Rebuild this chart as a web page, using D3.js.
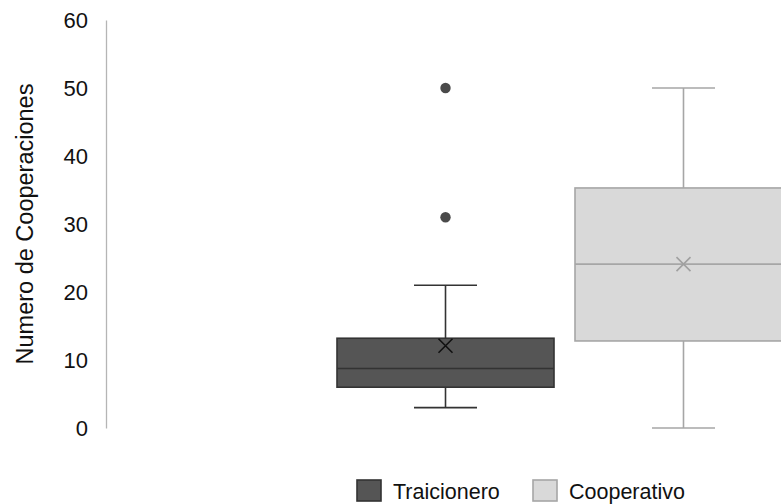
<!DOCTYPE html>
<html><head><meta charset="utf-8">
<script src="https://cdn.jsdelivr.net/npm/d3@7"></script>
<style>html,body{margin:0;padding:0;background:#fff;overflow:hidden}svg{display:block}</style>
</head><body>
<svg id="chart" width="781" height="504"></svg>
<script>
const series = ["Traicionero", "Cooperativo"];
const q1 = [6.0, 12.8];
const median = [8.75, 24.1];
const q3 = [13.2, 35.3];
const whiskerLow = [3.0, 0.0];
const whiskerHigh = [21.0, 50.0];
const means = [12.1, 24.1];
const outliers = [[31.0, 50.0], []];
const yTicks = [0, 10, 20, 30, 40, 50, 60];
const yTitle = "Numero de Cooperaciones";

const fills = ["#555555", "#d9d9d9"];
const strokes = ["#333333", "#a6a6a6"];
const meanColors = ["#111111", "#a0a0a0"];

const svg = d3.select("#chart");
const font = "'Liberation Sans', Arial, Helvetica, sans-serif";

const y = d3.scaleLinear().domain([0, 60]).range([428, 20]);
const x = d3.scaleBand().domain(series).range([337, 792]).paddingInner(0.0882).paddingOuter(0);

// y axis
const yAxis = d3.axisLeft(y).tickValues(yTicks).tickSize(0).tickPadding(18).tickFormat(d3.format("d"));
const gA = svg.append("g").attr("transform", "translate(106,0)").call(yAxis);
gA.select(".domain").attr("stroke", "#b5b5b5").attr("stroke-width", 1.3);
gA.selectAll("text").attr("font-family", font).attr("font-size", 22).attr("fill", "#111").attr("dy", "0.35em");

svg.append("text")
  .attr("transform", `translate(33,${(80 + 368) / 2}) rotate(-90)`)
  .attr("text-anchor", "middle").attr("font-family", font).attr("font-size", 23.5).attr("fill", "#111")
  .text(yTitle);

const data = series.map((s, i) => ({ s, i, q1: q1[i], med: median[i], q3: q3[i], lo: whiskerLow[i], hi: whiskerHigh[i], mean: means[i], out: outliers[i] }));

const g = svg.selectAll("g.box").data(data).enter().append("g").attr("class", "box");

g.each(function (d) {
  const sel = d3.select(this);
  const x0 = x(d.s), w = x.bandwidth(), cx = x0 + w / 2;
  const capW = 63;
  const st = strokes[d.i];
  // whiskers
  sel.append("line").attr("x1", cx).attr("x2", cx).attr("y1", y(d.q3)).attr("y2", y(d.hi)).attr("stroke", st).attr("stroke-width", 1.6);
  sel.append("line").attr("x1", cx).attr("x2", cx).attr("y1", y(d.q1)).attr("y2", y(d.lo)).attr("stroke", st).attr("stroke-width", 1.6);
  sel.append("line").attr("x1", cx - capW / 2).attr("x2", cx + capW / 2).attr("y1", y(d.hi)).attr("y2", y(d.hi)).attr("stroke", st).attr("stroke-width", 1.6);
  sel.append("line").attr("x1", cx - capW / 2).attr("x2", cx + capW / 2).attr("y1", y(d.lo)).attr("y2", y(d.lo)).attr("stroke", st).attr("stroke-width", 1.6);
  // box
  sel.append("rect").attr("x", x0).attr("width", w).attr("y", y(d.q3)).attr("height", y(d.q1) - y(d.q3))
    .attr("fill", fills[d.i]).attr("stroke", st).attr("stroke-width", 1.6);
  // median
  sel.append("line").attr("x1", x0).attr("x2", x0 + w).attr("y1", y(d.med)).attr("y2", y(d.med)).attr("stroke", st).attr("stroke-width", 1.6);
  // mean X
  const m = 7, my = y(d.mean);
  sel.append("path").attr("d", `M${cx - m},${my - m}L${cx + m},${my + m}M${cx - m},${my + m}L${cx + m},${my - m}`)
    .attr("stroke", meanColors[d.i]).attr("stroke-width", 1.6).attr("fill", "none");
  // outliers
  sel.selectAll("circle").data(d.out).enter().append("circle")
    .attr("cx", cx).attr("cy", v => y(v)).attr("r", 5.2).attr("fill", "#4a4a4a");
});

// legend
const legX = [357, 533];
const lg = svg.selectAll("g.leg").data(series).enter().append("g").attr("class", "leg")
  .attr("transform", (d, i) => `translate(${legX[i]},480)`);
lg.append("rect").attr("width", 24).attr("height", 21).attr("fill", (d, i) => fills[i]).attr("stroke", (d, i) => strokes[i]).attr("stroke-width", 1.6);
lg.append("text").attr("x", 36).attr("y", 18.5).attr("font-family", font).attr("font-size", 21.5).attr("fill", "#111").text(d => d);
</script>
</body></html>
